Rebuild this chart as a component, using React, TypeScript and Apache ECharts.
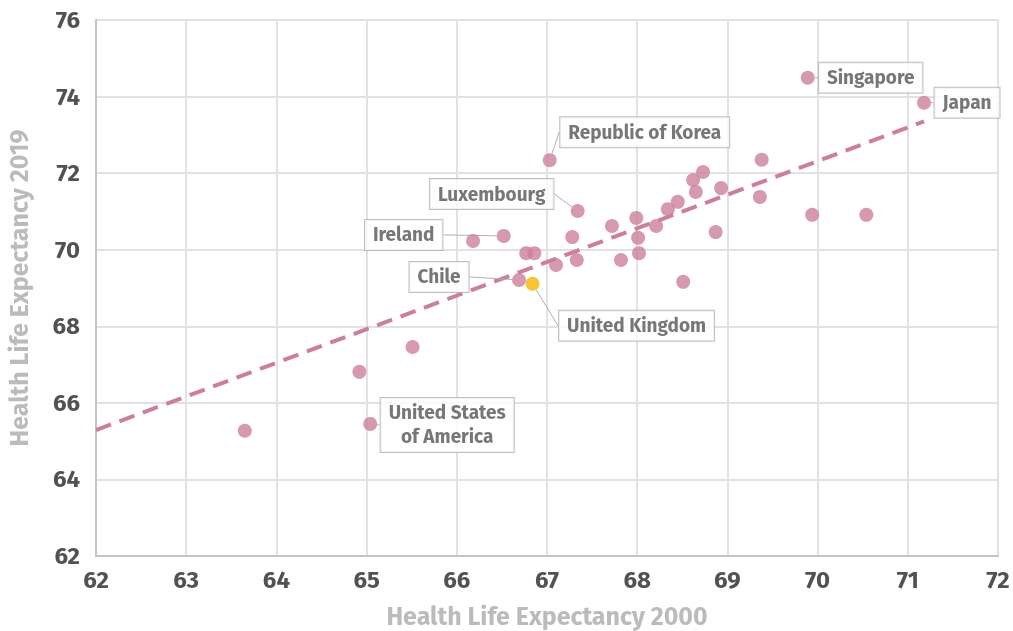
import React, { useEffect, useRef } from "react";
import * as echarts from "echarts";

const countries = [
  "", "", "United States\nof America", "", "", "Ireland", "Chile", "", "", "United Kingdom",
  "Republic of Korea", "", "", "", "Luxembourg", "", "", "", "", "",
  "", "", "", "", "", "", "", "", "", "",
  "", "Singapore", "", "", "Japan",
];
const hle2000 = [
  63.65, 64.92, 65.04, 65.51, 66.18, 66.52, 66.69, 66.77, 66.86, 66.84,
  67.03, 67.10, 67.28, 67.33, 67.34, 67.72, 67.82, 67.99, 68.01, 68.02,
  68.21, 68.34, 68.45, 68.51, 68.62, 68.65, 68.73, 68.87, 68.93, 69.36,
  69.38, 69.89, 69.94, 70.54, 71.18,
];
const hle2019 = [
  65.27, 66.81, 65.45, 67.46, 70.23, 70.36, 69.21, 69.91, 69.91, 69.11,
  72.34, 69.60, 70.33, 69.73, 71.01, 70.62, 69.73, 70.83, 70.31, 69.91,
  70.62, 71.06, 71.25, 69.16, 71.82, 71.51, 72.03, 70.46, 71.61, 71.38,
  72.35, 74.49, 70.91, 70.91, 73.84,
];
const highlighted = ["United Kingdom"];
const trendX = [62, 71.18];
const trendY = [65.29, 73.35];
const xTicks = { min: 62, max: 72, interval: 1 };
const yTicks = { min: 62, max: 76, interval: 2 };

// label offsets (px) from the point to the label box centre
const labelOffsets: Record<string, [number, number]> = {
  "Singapore": [63, 0],
  "Japan": [43, 0],
  "Republic of Korea": [95, -28],
  "Luxembourg": [-86, -17],
  "Ireland": [-100, -1],
  "Chile": [-80, -3],
  "United Kingdom": [104, 42],
  "United States\nof America": [77, 1],
};

const FONT = "'Fira Sans', 'Noto Sans', 'Open Sans', sans-serif";
const POINT = "#cd7f9a";
const HIGHLIGHT = "#f7b500";

export default function App() {
  const ref = useRef<HTMLDivElement>(null);
  useEffect(() => {
    if (!ref.current) return;
    const chart = echarts.init(ref.current, null, { renderer: "svg" });
    const data = hle2000.map((x, i) => {
      const name = countries[i];
      const isHi = highlighted.includes(name);
      return {
        name,
        value: [x, hle2019[i]],
        itemStyle: { color: isHi ? HIGHLIGHT : POINT },
        label: { show: !!name },
        labelLine: { show: !!name },
      };
    });
    chart.setOption({
      animation: false,
      grid: { left: 96, right: 15, top: 20, bottom: 75, outerBoundsMode: "none", containLabel: false },
      xAxis: {
        type: "value",
        ...xTicks,
        name: "Health Life Expectancy 2000",
        nameLocation: "middle",
        nameGap: 48,
        nameTextStyle: { color: "#bbbbbb", fontWeight: "bold", fontSize: 25, fontFamily: FONT },
        axisLine: { show: true, lineStyle: { color: "#c4c4c4", width: 2 } },
        axisTick: { show: false },
        splitLine: { show: true, lineStyle: { color: "#e2e2e2", width: 2 } },
        axisLabel: { color: "#525252", fontWeight: "bold", fontSize: 24, fontFamily: FONT, margin: 12 },
      },
      yAxis: {
        type: "value",
        ...yTicks,
        name: "Health Life Expectancy 2019",
        nameLocation: "middle",
        nameGap: 64,
        nameTextStyle: { color: "#bbbbbb", fontWeight: "bold", fontSize: 25, fontFamily: FONT },
        axisLine: { show: true, lineStyle: { color: "#c4c4c4", width: 2 } },
        axisTick: { show: false },
        splitLine: { show: true, lineStyle: { color: "#e2e2e2", width: 2 } },
        axisLabel: { color: "#525252", fontWeight: "bold", fontSize: 24, fontFamily: FONT, margin: 16 },
      },
      series: [
        {
          type: "line",
          data: trendX.map((x, i) => [x, trendY[i]]),
          symbol: "none",
          lineStyle: { color: POINT, width: 4, type: [16, 9] },
          silent: true,
          z: 1,
        },
        {
          type: "scatter",
          data,
          symbolSize: 14,
          z: 3,
          label: {
            position: "inside",
            formatter: (p: any) => p.name,
            color: "#555555",
            fontWeight: "bold",
            fontSize: 19,
            fontFamily: FONT,
            lineHeight: 24,
            backgroundColor: "#ffffff",
            borderColor: "#b0b0b0",
            borderWidth: 1,
            padding: [3, 8],
            align: "center",
          },
          labelLine: { show: true, lineStyle: { color: "#b0b0b0", width: 1 } },
          labelLayout: (params: any) => {
            const name = countries[params.dataIndex];
            const off = labelOffsets[name];
            if (!off) return {};
            return { dx: off[0], dy: off[1] };
          },
        },
      ],
    });
    return () => chart.dispose();
  }, []);
  return <div ref={ref} style={{ position: "fixed", left: 0, top: 0, width: 1013, height: 631 }} />;
}
